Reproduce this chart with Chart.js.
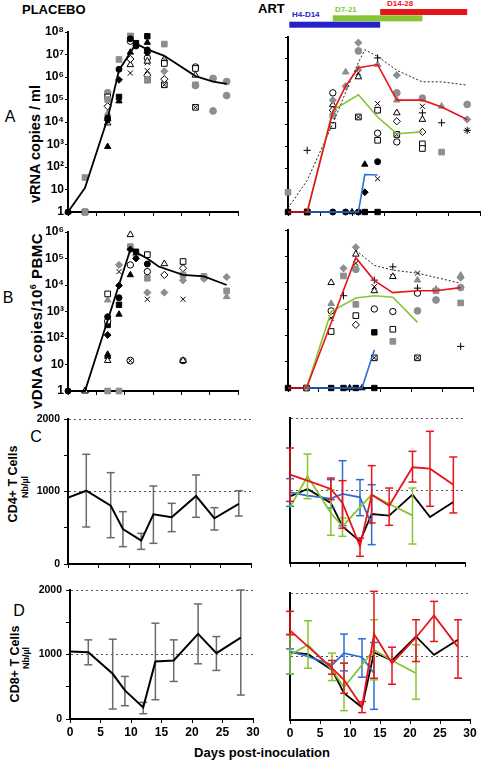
<!DOCTYPE html>
<html>
<head>
<meta charset="utf-8">
<title>Viral load and T cells, placebo vs ART</title>
<script src="https://cdn.jsdelivr.net/npm/chart.js@4.4.1/dist/chart.umd.min.js"></script>
<style>
  html, body { margin: 0; padding: 0; background: #fff; }
  body { position: relative; width: 484px; height: 762px; overflow: hidden; font-family: "Liberation Sans", Arial, sans-serif; }
  canvas { position: absolute; }
  .lbl { position: absolute; white-space: nowrap; line-height: 1; color: #000; }
  .b { font-weight: bold; }
  .rot { transform: translate(-50%, -50%) rotate(-90deg); }
  .mid { transform: translate(-50%, -50%); }
</style>
</head>
<body>
<div class="lbl b" style="left:22px;top:3px;font-size:13px">PLACEBO</div>
<div class="lbl b" style="left:258px;top:2px;font-size:13px">ART</div>
<div class="lbl b" style="left:292px;top:11px;font-size:8px;color:#2323c8">H4-D14</div>
<div class="lbl b" style="left:335px;top:6px;font-size:8px;color:#86c532">D7-21</div>
<div class="lbl b" style="left:387px;top:0px;font-size:8px;color:#e8141c">D14-28</div>
<div class="lbl mid" style="left:10px;top:117px;font-size:16px">A</div>
<div class="lbl mid" style="left:8px;top:298px;font-size:16px">B</div>
<div class="lbl mid" style="left:36px;top:437px;font-size:16px">C</div>
<div class="lbl mid" style="left:19px;top:611px;font-size:16px">D</div>
<div class="lbl b rot" style="left:35px;top:144px;font-size:14.5px">vRNA copies / ml</div>
<div class="lbl b rot" style="left:36px;top:321px;font-size:15px;letter-spacing:0.5px">vDNA copies/10<sup style="font-size:9px">6</sup> PBMC</div>
<div class="lbl b rot" style="left:13px;top:484px;font-size:12.5px">CD4+ T Cells</div>
<div class="lbl b rot" style="left:25px;top:487px;font-size:9px">Nb/µl</div>
<div class="lbl b rot" style="left:15px;top:664px;font-size:12.5px">CD8+ T Cells</div>
<div class="lbl b rot" style="left:26px;top:658px;font-size:9px">Nb/µl</div>
<div class="lbl b mid" style="left:262px;top:752px;font-size:13px">Days post-inoculation</div>

<script>
Chart.defaults.font.family = '"Liberation Sans", Arial, sans-serif';
Chart.defaults.color = '#000';

const GREY = '#8e8e8e';
const RED = '#e8141c';
const GREEN = '#86c532';
const BLUE = '#2b6fd6';

// ---------- A: vRNA copies / ml ----------
const vrnaPlaceboDays = [0, 3, 7, 9, 12, 14, 17, 22.5, 25.6, 28];
const vrnaPlaceboMean = [1, 12, 1.45e4, 2.0e6, 3.0e7, 1.7e7, 8.7e6, 1.1e6, 6.3e5, 4.9e5];
// [day, copies, animal symbol]
const vrnaPlaceboPoints = [
  [0, 1, 'bt'], [0, 1, 'bc'],
  [3, 34, 'gs'], [3, 1, 'gs'], [3, 1, 'os'],
  [7, 2.0e5, 'gc'], [7, 1.3e5, 'os'], [7, 1.0e5, 'gs'], [7, 5.0e4, 'od'], [7, 2.4e4, 'gt'], [7, 1.5e4, 'bc'],
  [7, 1.2e4, 'bd'], [7, 9e3, 'ot'], [7, 800, 'bt'],
  [9, 6e6, 'gs'], [9, 2.2e6, 'bc'], [9, 7.5e5, 'bd'], [9, 1.3e5, 'bs'], [9, 8.5e4, 'bt'],
  [11, 6.5e7, 'gs'], [11, 6.5e7, 'os'], [11, 5e7, 'bc'], [11, 3.9e7, 'oc'], [11, 1.25e7, 'bt'], [11, 6.3e6, 'gd'],
  [11, 6.3e6, 'od'], [11, 3.5e6, 'ot'], [11, 1.5e6, 'x'],
  [12, 3.2e7, 'bs'], [12, 2.4e7, 'bc'],
  [14, 6.5e7, 'bs'], [14, 3.4e7, 'bt'], [14, 1.6e7, 'bc'], [14, 1.2e7, 'bd'], [14, 7e6, 'oc'], [14, 5e6, 'ot'],
  [14, 4.3e6, 'x'], [14, 1.9e6, 'x'], [14, 1.2e6, 'od'], [14, 7.4e5, 'gs'], [14, 7.4e5, 'os'],
  [17, 2.9e7, 'gs'], [17, 6.2e6, 'ot'], [17, 5e6, 'gt'], [17, 4e6, 'os'], [17, 1.8e6, 'gd'], [17, 8e5, 'od'], [17, 4.5e5, 'xs'],
  [22.5, 2.8e6, 'oc'], [22.5, 2.4e6, 'os'], [22.5, 1.2e6, 'ot'], [22.5, 4.5e5, 'gs'], [22.5, 4.2e5, 'gc'], [22.5, 4.5e4, 'xs'],
  [25.6, 8.7e5, 'gc'], [25.6, 3.1e4, 'gc'],
  [28, 6.3e5, 'gc'], [28, 1.5e5, 'gc']
];

const vrnaRedDays = [0, 3, 7, 9, 11, 14, 17, 21, 24, 28];
const vrnaRed = [1, 1, 3.7e4, 5.6e5, 3.9e6, 5.5e6, 1.3e5, 1.3e5, 6.3e4, 1.7e4];
const vrnaGreenDays = [3, 7, 11, 14, 17, 21];
const vrnaGreen = [1, 4.5e4, 2.3e5, 2.2e4, 3.8e3, 4.6e3];
const vrnaBlueDays = [3, 7, 9, 10, 11, 12, 14];
const vrnaBlue = [1, 1, 1, 1, 1, 52, 49];
const vrnaDotDays = [0, 3, 7, 9, 11, 12, 14, 17, 21, 24, 28];
const vrnaDot = [1.5, 28, 1.1e4, 2.9e5, 6.9e6, 2.6e7, 1.3e7, 3e6, 8.9e5, 8.9e5, 6.3e5];
const vrnaArtPoints = [
  [0, 8, 'gs'], [0, 1, 'bs'],
  [3, 660, 'p'], [3, 1, 'bs'], [3, 1, 'os'],
  [7, 2.8e5, 'oc'], [7, 1.3e5, 'gd'], [7, 8e4, 'ot'], [7, 4.5e4, 'od'], [7, 2.5e4, 'gs'], [7, 9e3, 'os'], [7, 1, 'bc'],
  [9, 2.5e6, 'gt'], [9, 5.6e5, 'gd'], [9, 1, 'bc'],
  [10, 1, 'bt'],
  [11, 5.5e7, 'gd'], [11, 2.3e7, 'gc'], [11, 3.5e6, 'gt'], [11, 2.3e6, 'x'], [11, 1.5e6, 'ot'], [11, 2.2e4, 'xs'], [11, 1, 'bc'],
  [12, 150, 'bt'], [12, 8, 'bd'], [12, 1, 'bs'],
  [14, 1.1e7, 'p'], [14, 5.5e6, 'gt'], [14, 9e4, 'x'], [14, 4.5e4, 'os'], [14, 4e3, 'oc'], [14, 1.9e3, 'os'],
  [14, 200, 'bc'], [14, 33, 'x'], [14, 1, 'bs'],
  [17, 1.8e6, 'gd'], [17, 2.8e5, 'gc'], [17, 1.3e5, 'gt'], [17, 3.4e4, 'ot'], [17, 1.4e4, 'od'], [17, 3.5e3, 'xs'], [17, 1.6e3, 'oc'],
  [21, 1.6e5, 'gc'], [21, 6.8e4, 'x'], [21, 3.4e4, 'p'], [21, 1.7e4, 'ot'], [21, 4.6e3, 'od'], [21, 1.3e3, 'os'], [21, 800, 'os'],
  [24, 6.8e4, 'gt'], [24, 1.2e4, 'p'], [24, 550, 'gs'],
  [28, 8.3e4, 'gc'], [28, 1.7e4, 'gd'], [28, 5.4e3, 'st']
];

// treatment windows drawn above the ART panel (days)
const treatmentBars = [
  { label: 'D14-28', from: 14.4, to: 28, color: '#e8141c' },
  { label: 'D7-21', from: 7, to: 21, color: '#86c532' },
  { label: 'H4-D14', from: 0.2, to: 14.4, color: '#2323c8' }
];

// ---------- B: vDNA copies / 10^6 PBMC ----------
const vdnaPlaceboDays = [0, 3, 11, 12, 14, 16, 20.3, 24, 28];
const vdnaPlaceboMean = [1, 1, 2.2e5, 1.7e5, 1e5, 5e4, 2.4e4, 2.1e4, 1e4];
const vdnaPlaceboPoints = [
  [0, 1, 'bc'],
  [3, 1, 'ot'], [3, 1, 'bt'],
  [7, 4.6e3, 'os'], [7, 2.7e3, 'gt'], [7, 630, 'bc'], [7, 440, 'oc'], [7, 310, 'bs'], [7, 130, 'bd'],
  [7, 24, 'bt'], [7, 20, 'bt'], [7, 14, 'ot'], [7, 1, 'gs'],
  [9, 5.7e4, 'gd'], [9, 3.2e4, 'x'], [9, 9.5e3, 'bd'], [9, 3.3e3, 'bc'], [9, 1.8e3, 'bs'], [9, 780, 'bt'], [9, 1, 'gs'],
  [11, 7.9e5, 'ot'], [11, 2.8e5, 'gs'], [11, 2.2e5, 'bd'], [11, 5.7e4, 'oc'], [11, 2.4e4, 'bt'], [11, 14, 'xc'],
  [12, 1.8e5, 'bs'], [12, 1.3e5, 'gd'], [12, 1e5, 'bd'],
  [14, 1.4e5, 'os'], [14, 6.2e4, 'bc'], [14, 3.2e4, 'oc'], [14, 1.8e4, 'gs'], [14, 5.2e3, 'gd'], [14, 2.9e3, 'x'],
  [17, 6.3e4, 'ot'], [17, 2.4e4, 'od'], [17, 5.2e3, 'gd'],
  [20.3, 7.7e4, 'os'], [20.3, 4.3e4, 'od'], [20.3, 2.4e4, 'gs'], [20.3, 1.5e4, 'gd'], [20.3, 2.9e3, 'x'],
  [20.3, 14, 'oc'], [20.3, 14, 'ot'],
  [24, 2.1e4, 'gs'], [24, 1.7e4, 'gd'],
  [28, 2e4, 'gd'], [28, 6e3, 'gs'], [28, 3.6e3, 'gt']
];

const vdnaRedDays = [0, 3, 11, 14, 17, 21, 24, 28];
const vdnaRed = [1, 1, 8.9e4, 1.2e4, 4.2e3, 4.9e3, 4.9e3, 6.5e3];
const vdnaGreenDays = [3, 7, 11, 14, 17, 21];
const vdnaGreen = [1, 800, 2.6e3, 3.2e3, 2.8e3, 310];
const vdnaBlueDays = [3, 7, 9, 10, 11, 12, 14];
const vdnaBlue = [1, 1, 1, 1, 1, 1, 28];
const vdnaDotDays = [11, 14, 17, 21, 28];
const vdnaDot = [1.7e5, 4.5e4, 3e4, 2.3e4, 9.5e3];
const vdnaArtPoints = [
  [0, 1, 'bs'],
  [3, 1, 'xs'],
  [7, 1e4, 'ot'], [7, 1.6e3, 'gt'], [7, 850, 'oc'], [7, 450, 'x'], [7, 140, 'os'], [7, 1, 'bs'],
  [9, 3.5e4, 'gd'], [9, 1.8e4, 'gs'], [9, 3.2e3, 'p'], [9, 1, 'bs'],
  [10, 1, 'bt'],
  [11, 2.2e5, 'gd'], [11, 1.2e5, 'ot'], [11, 5.4e4, 'x'], [11, 3.2e4, 'gc'], [11, 1.5e3, 'gs'], [11, 560, 'os'],
  [11, 250, 'od'], [11, 1, 'bs'],
  [12, 1, 'bt'],
  [14, 1.25e4, 'p'], [14, 7e3, 'x'], [14, 4.9e3, 'ot'], [14, 1e3, 'oc'], [14, 130, 'bs'], [14, 14, 'xs'], [14, 1, 'bs'],
  [17, 4e4, 'p'], [17, 1.7e4, 'x'], [17, 1.7e4, 'ot'], [17, 800, 'oc'], [17, 170, 'os'], [17, 59, 'gs'],
  [21, 2.3e4, 'x'], [21, 1.25e4, 'gt'], [21, 6.2e3, 'p'], [21, 4e3, 'oc'], [21, 850, 'gc'], [21, 14, 'xs'],
  [24, 5.6e3, 'p'], [24, 4.9e3, 'gs'], [24, 2.2e3, 'gc'],
  [28, 1.9e4, 'gt'], [28, 1.55e4, 'gd'], [28, 6.5e3, 'gc'], [28, 1.7e3, 'gs'], [28, 38, 'p']
];

// ---------- C / D: T cells (Nb/µl) ----------
const cellDays = [0, 3, 7, 9, 12, 14, 17, 21, 24, 28];

const cd4Placebo   = [915, 1011, 805, 483, 322, 685, 644, 938, 630, 828];
const cd4PlaceboLo = [null, 510, 363, 239, 202, 285, 446, 644, 469, 662];
const cd4PlaceboHi = [null, 1513, 1260, 722, 423, 1076, 837, 1228, 777, 1011];

const cd4ArtAll = [920, 1021, 828, 506, 299, 676, 653, 943, 634, 841];
const cd4Red   = [1218, 1136, 1021, 828, 230, 943, 791, 1320, 1301, 1080];
const cd4RedLo = [850, null, 874, 480, 92, 552, 520, 1117, 782, 690];
const cd4RedHi = [1586, null, 1172, 1136, 345, 1343, 1034, 1540, 1816, 1462];
const cd4GreenDays = [0, 3, 7, 9, 14, 17, 21];
const cd4Green   = [768, 1195, 690, 506, 943, 814, 657];
const cd4GreenLo = [null, 887, 382, 368, null, null, 262];
const cd4GreenHi = [null, 1503, 1011, 621, null, null, 1034];
const cd4BlueDays = [0, 3, 7, 9, 12, 14];
const cd4Blue   = [975, 929, 887, 952, 906, 529];
const cd4BlueLo = [782, null, 759, 515, 653, 253];
const cd4BlueHi = [1163, null, 1150, 1411, 1150, 1080];

const cd8Placebo   = [1046, 1036, 701, 443, 180, 892, 907, 1320, 1021, 1263];
const cd8PlaceboLo = [null, 840, 155, 206, 82, 299, 582, 856, 753, 371];
const cd8PlaceboHi = [null, 1227, 1237, 660, 258, 1485, 1227, 1784, 1278, 2000];

const cd8ArtAll = [1063, 1037, 789, 421, 200, 1063, 937, 1316, 1026, 1263];
const cd8RedDays = [0, 7, 9, 12, 14, 17, 21, 24, 28];
const cd8Red   = [1411, 816, 632, 211, 1353, 895, 1300, 1647, 1147];
const cd8RedLo = [1342, 721, 421, 116, 658, 563, 921, 1237, 658];
const cd8RedHi = [1711, 937, 895, 289, 2026, 1147, 1579, 1868, 1579];
const cd8GreenDays = [0, 3, 7, 9, 14, 17, 21];
const cd8Green   = [1026, 1184, 789, 516, 1105, 937, 737];
const cd8GreenLo = [726, 816, 621, 147, 632, null, 326];
const cd8GreenHi = [1353, 1563, 1053, 895, 1579, null, 1184];
const cd8BlueDays = [0, 3, 7, 9, 12, 14];
const cd8Blue   = [1079, 1000, 868, 1053, 989, 737];
const cd8BlueLo = [726, null, null, 774, 674, 168];
const cd8BlueHi = [1120, null, null, 1353, 1279, 1221];

// marker for each animal symbol (topmost layer first)
const MARKS = {
  bc: [{ s: 'circle', r: 3, f: '#000', c: '#000' }],
  bt: [{ s: 'triangle', r: 3.6, f: '#000', c: '#000' }],
  bs: [{ s: 'rect', r: 3.8, f: '#000', c: '#000' }],
  bd: [{ s: 'rectRot', r: 3.4, f: '#000', c: '#000' }],
  oc: [{ s: 'circle', r: 3.2, f: '#fff', c: '#000' }],
  ot: [{ s: 'triangle', r: 3.8, f: '#fff', c: '#000' }],
  os: [{ s: 'rect', r: 4, f: '#fff', c: '#000' }],
  od: [{ s: 'rectRot', r: 3.6, f: '#fff', c: '#000' }],
  gc: [{ s: 'circle', r: 3.4, f: GREY, c: GREY }],
  gt: [{ s: 'triangle', r: 3.8, f: GREY, c: GREY }],
  gs: [{ s: 'rect', r: 4, f: GREY, c: GREY }],
  gd: [{ s: 'rectRot', r: 3.6, f: GREY, c: GREY }],
  x:  [{ s: 'crossRot', r: 3.6, f: '#000', c: '#000' }],
  p:  [{ s: 'cross', r: 3.6, f: '#000', c: '#000' }],
  st: [{ s: 'star', r: 3.6, f: '#000', c: '#000' }],
  xs: [{ s: 'crossRot', r: 3, f: '#000', c: '#000' }, { s: 'rect', r: 4, f: '#fff', c: '#000' }],
  xc: [{ s: 'crossRot', r: 3, f: '#000', c: '#000' }, { s: 'circle', r: 3.4, f: '#fff', c: '#000' }]
};

const SUP = ['', '', '\u00b2', '\u00b3', '\u2074', '\u2075', '\u2076', '\u2077', '\u2078'];
function powLabel(v) {
  const p = Math.round(Math.log10(v));
  if (p === 0) return '1';
  if (p === 1) return '10';
  return '10' + SUP[p];
}

const Y_W = 36, X_H = 24, PAD_R = 10;

function dayAxis(showLabels) {
  return {
    type: 'linear', min: 0, max: 30,
    ticks: { stepSize: 5, display: showLabels, maxRotation: 0, padding: 2, font: { size: 12, weight: 'bold' }, color: '#000' },
    grid: { drawOnChartArea: false, drawTicks: true, tickLength: 4, tickColor: '#000', tickWidth: 1 },
    border: { display: true, color: '#000', width: 2 },
    afterFit: s => { s.height = X_H; s.paddingLeft = 0; s.paddingRight = 0; }
  };
}

function logAxis(maxPow, showLabels) {
  return {
    type: 'logarithmic', min: 1, max: Math.pow(10, maxPow),
    afterBuildTicks: s => {
      const t = [];
      for (let p = 0; p <= maxPow; p++) t.push({ value: Math.pow(10, p) });
      s.ticks = t;
    },
    ticks: { display: showLabels, autoSkip: false, padding: 1, callback: v => powLabel(v), font: { size: 12, weight: 'bold' }, color: '#000' },
    grid: { drawOnChartArea: false, tickLength: 3, tickColor: '#000' },
    border: { color: '#000', width: 2 },
    afterFit: s => { s.width = Y_W; s.paddingTop = 0; s.paddingBottom = 0; }
  };
}

function cellAxis(showLabels) {
  return {
    type: 'linear', min: 0, max: 2000,
    ticks: { stepSize: 500, display: showLabels, autoSkip: false, padding: 4,
      callback: v => (v % 1000 === 0 ? String(v) : ''), font: { size: 10.5, weight: 'bold' }, color: '#000' },
    grid: {
      drawOnChartArea: true, drawTicks: showLabels, tickLength: 4, tickColor: '#000',
      color: c => (c.tick && c.tick.value > 0 && c.tick.value % 1000 === 0 ? '#555' : 'rgba(0,0,0,0)'),
      lineWidth: 1
    },
    border: { color: '#000', width: 2, dash: [2, 3] },
    afterFit: s => { s.width = Y_W; s.paddingTop = 0; s.paddingBottom = 0; }
  };
}

function line(days, vals, color, width, dash) {
  return {
    type: 'line', data: days.map((d, i) => ({ x: d, y: vals[i] })),
    borderColor: color, borderWidth: width, borderDash: dash || [],
    pointRadius: 0, tension: 0, fill: false, clip: false
  };
}

function errBars(days, lo, hi, color) {
  const data = [];
  days.forEach((d, i) => {
    if (lo[i] == null || hi[i] == null) return;
    data.push({ x: d, y: lo[i] }, { x: d, y: hi[i] }, { x: d, y: null });
  });
  return {
    type: 'line', data, borderColor: color, borderWidth: 1.5, spanGaps: false,
    pointStyle: 'line', pointRadius: 4, pointBorderColor: color, pointBorderWidth: 1.5,
    tension: 0, fill: false, clip: false
  };
}

function scatterSets(points) {
  const groups = {};
  points.forEach(([d, v, id]) => { (groups[id] = groups[id] || []).push({ x: d, y: v }); });
  const sets = [];
  Object.keys(groups).forEach(id => {
    MARKS[id].forEach(m => sets.push({
      type: 'scatter', data: groups[id], showLine: false, clip: false,
      pointStyle: m.s, pointRadius: m.r, pointBackgroundColor: m.f,
      pointBorderColor: m.c, pointBorderWidth: 1
    }));
  });
  return sets;
}

const barsPlugin = {
  id: 'treatmentBars',
  afterDraw(chart) {
    const xs = chart.scales.x;
    const ctx = chart.ctx;
    const rowTop = [9, 15.3, 21.7];
    ctx.save();
    treatmentBars.forEach((b, i) => {
      const x1 = xs.getPixelForValue(b.from), x2 = xs.getPixelForValue(b.to);
      ctx.fillStyle = b.color;
      ctx.fillRect(x1, rowTop[i], x2 - x1, 6);
    });
    ctx.restore();
  }
};

function panel(area, cfg) {
  const padT = cfg.padTop || 8;
  const w = area.r - area.l + Y_W + PAD_R;
  const h = area.b - area.t + X_H + padT;
  const c = document.createElement('canvas');
  c.width = w; c.height = h;
  c.style.left = (area.l - Y_W) + 'px';
  c.style.top = (area.t - padT) + 'px';
  c.style.width = w + 'px'; c.style.height = h + 'px';
  document.body.appendChild(c);
  new Chart(c, {
    type: 'scatter',
    data: { datasets: cfg.datasets },
    options: {
      responsive: false, animation: false, devicePixelRatio: 1,
      layout: { padding: { top: padT, right: PAD_R, left: 0, bottom: 0 } },
      plugins: { legend: { display: false }, tooltip: { enabled: false } },
      scales: { x: cfg.x, y: cfg.y }
    },
    plugins: cfg.plugins || []
  });
}

// A
panel({ l: 68, r: 238, t: 32, b: 212 }, {
  x: dayAxis(false), y: logAxis(8, true),
  datasets: [line(vrnaPlaceboDays, vrnaPlaceboMean, '#000', 1.8), ...scatterSets(vrnaPlaceboPoints)]
});
panel({ l: 288, r: 480, t: 37, b: 212 }, {
  padTop: 37, x: dayAxis(false), y: logAxis(8, false), plugins: [barsPlugin],
  datasets: [
    line(vrnaRedDays, vrnaRed, RED, 1.6),
    line(vrnaGreenDays, vrnaGreen, GREEN, 1.6),
    line(vrnaBlueDays, vrnaBlue, BLUE, 1.6),
    line(vrnaDotDays, vrnaDot, '#222', 1, [2, 2]),
    ...scatterSets(vrnaArtPoints)
  ]
});

// B
panel({ l: 68, r: 238, t: 232, b: 391 }, {
  x: dayAxis(false), y: logAxis(6, true),
  datasets: [line(vdnaPlaceboDays, vdnaPlaceboMean, '#000', 1.8), ...scatterSets(vdnaPlaceboPoints)]
});
panel({ l: 288, r: 473, t: 230, b: 388 }, {
  x: dayAxis(false), y: logAxis(6, false),
  datasets: [
    line(vdnaRedDays, vdnaRed, RED, 1.6),
    line(vdnaGreenDays, vdnaGreen, GREEN, 1.6),
    line(vdnaBlueDays, vdnaBlue, BLUE, 1.6),
    line(vdnaDotDays, vdnaDot, '#222', 1, [2, 2]),
    ...scatterSets(vdnaArtPoints)
  ]
});

// C
panel({ l: 68, r: 251, t: 419, b: 564 }, {
  x: dayAxis(false), y: cellAxis(true),
  datasets: [
    line(cellDays, cd4Placebo, '#000', 2),
    errBars(cellDays, cd4PlaceboLo, cd4PlaceboHi, '#6a6a6a')
  ]
});
panel({ l: 290, r: 465, t: 418, b: 563 }, {
  x: dayAxis(false), y: cellAxis(false),
  datasets: [
    line(cellDays, cd4Red, RED, 1.8),
    errBars(cellDays, cd4RedLo, cd4RedHi, RED),
    line(cd4GreenDays, cd4Green, GREEN, 1.8),
    errBars(cd4GreenDays, cd4GreenLo, cd4GreenHi, GREEN),
    line(cd4BlueDays, cd4Blue, BLUE, 1.8),
    errBars(cd4BlueDays, cd4BlueLo, cd4BlueHi, BLUE),
    line(cellDays, cd4ArtAll, '#000', 1.8)
  ]
});

// D
panel({ l: 70, r: 253, t: 590, b: 719 }, {
  x: dayAxis(true), y: cellAxis(true),
  datasets: [
    line(cellDays, cd8Placebo, '#000', 2),
    errBars(cellDays, cd8PlaceboLo, cd8PlaceboHi, '#6a6a6a')
  ]
});
panel({ l: 290, r: 470, t: 593, b: 720 }, {
  x: dayAxis(true), y: cellAxis(false),
  datasets: [
    line(cd8RedDays, cd8Red, RED, 1.8),
    errBars(cd8RedDays, cd8RedLo, cd8RedHi, RED),
    line(cd8GreenDays, cd8Green, GREEN, 1.8),
    errBars(cd8GreenDays, cd8GreenLo, cd8GreenHi, GREEN),
    line(cd8BlueDays, cd8Blue, BLUE, 1.8),
    errBars(cd8BlueDays, cd8BlueLo, cd8BlueHi, BLUE),
    line(cellDays, cd8ArtAll, '#000', 1.8)
  ]
});
</script>
</body>
</html>
